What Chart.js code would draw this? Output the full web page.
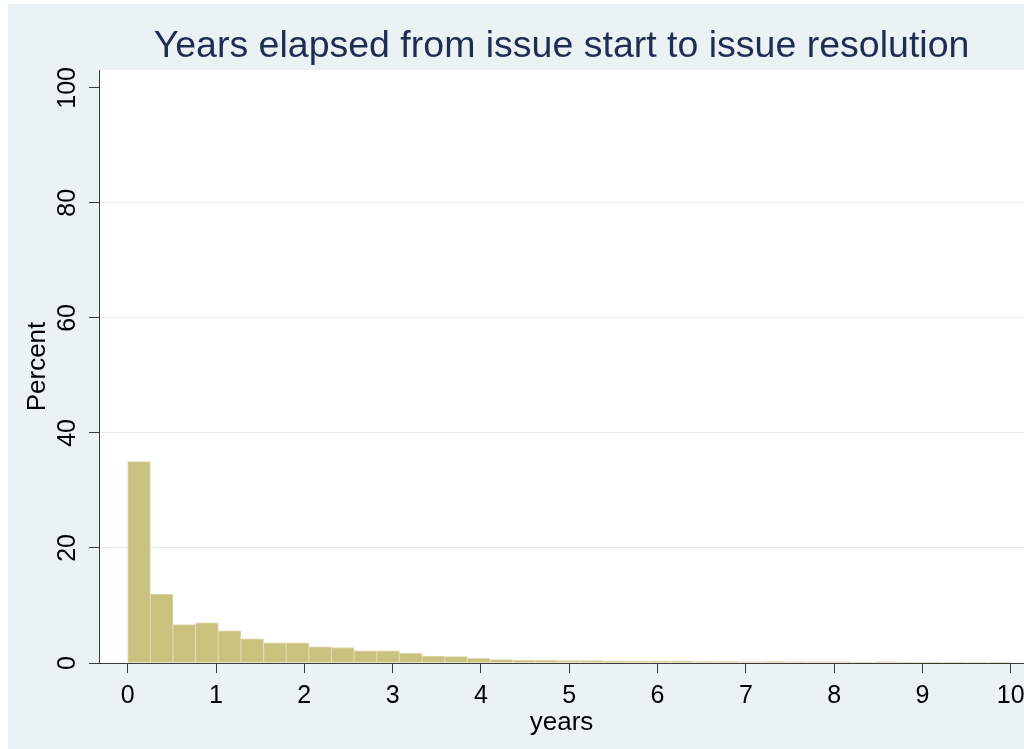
<!DOCTYPE html>
<html>
<head>
<meta charset="utf-8">
<title>Years elapsed from issue start to issue resolution</title>
<script src="https://cdn.jsdelivr.net/npm/chart.js@4"></script>
<style>
  html, body { margin: 0; padding: 0; background: #ffffff; }
  #chart { display: block; }
</style>
</head>
<body>
<canvas id="chart" width="1024" height="749"></canvas>
<script>
// histogram: 39 equal bins from 0 to 10 years, height = percent of issues
const binCount = 39;
const binWidth = 10 / binCount;
const percents = [
  35.0, 12.0, 6.7, 7.0, 5.6, 4.2, 3.5, 3.5, 2.8, 2.7,
  2.1, 2.1, 1.7, 1.2, 1.1, 0.8, 0.6, 0.5, 0.45, 0.4,
  0.4, 0.3, 0.35, 0.35, 0.3, 0.25, 0.25, 0.2, 0.25, 0.2,
  0.2, 0.2, 0.15, 0.2, 0.15, 0.15, 0.15, 0.1, 0.15
];
const xTicks = [0, 1, 2, 3, 4, 5, 6, 7, 8, 9, 10];
const yTicks = [0, 20, 40, 60, 80, 100];

const barData = percents.map((p, i) => ({ x: (i + 0.5) * binWidth, y: p }));

const FONT = "'Liberation Sans', Arial, Helvetica, sans-serif";

// stata-like backgrounds: light outer region, white plot region
const backgroundPlugin = {
  id: "background",
  beforeDraw(chart) {
    const { ctx, width, height, chartArea } = chart;
    ctx.save();
    ctx.fillStyle = "#ffffff";
    ctx.fillRect(0, 0, width, height);
    ctx.fillStyle = "#eaf2f3";
    ctx.fillRect(8, 4, width - 8, height - 4);
    ctx.fillStyle = "#ffffff";
    ctx.fillRect(chartArea.left, chartArea.top, chartArea.right - chartArea.left, chartArea.bottom - chartArea.top);
    ctx.restore();
  },
};

const ctx = document.getElementById("chart").getContext("2d");
new Chart(ctx, {
  type: "bar",
  data: {
    datasets: [
      {
        label: "Percent",
        data: barData,
        backgroundColor: "rgb(201,193,126)",
        borderColor: "rgb(222,216,170)",
        borderWidth: 1,
        barPercentage: 1,
        categoryPercentage: 1,
      },
    ],
  },
  options: {
    responsive: false,
    animation: false,
    devicePixelRatio: 1,
    layout: { padding: 0 },
    plugins: {
      legend: { display: false },
      tooltip: { enabled: false },
      title: {
        display: true,
        fullSize: false,
        text: "Years elapsed from issue start to issue resolution",
        color: "#1e2d53",
        font: { family: FONT, size: 37.5, weight: "normal", lineHeight: 1.2 },
        padding: { top: 24, bottom: 1 },
      },
    },
    scales: {
      x: {
        type: "linear",
        offset: false,
        min: -0.325,
        max: 10.15,
        afterBuildTicks: (scale) => {
          scale.ticks = xTicks.map((v) => ({ value: v }));
        },
        afterFit: (scale) => {
          scale.height = 86;
          scale.paddingLeft = 0;
          scale.paddingRight = 0;
        },
        grid: {
          offset: false,
          drawOnChartArea: false,
          drawTicks: true,
          tickLength: 10,
          tickColor: "#3a3a3a",
        },
        border: { color: "#3a3a3a", width: 1 },
        ticks: {
          color: "#000",
          padding: 8,
          maxRotation: 0,
          autoSkip: false,
          font: { family: FONT, size: 25 },
          callback: (v) => String(v),
        },
        title: {
          display: true,
          text: "years",
          color: "#000",
          font: { family: FONT, size: 26 },
          padding: { top: 0, bottom: 11 },
        },
      },
      y: {
        min: 0,
        max: 103.1,
        afterBuildTicks: (scale) => {
          scale.ticks = yTicks.map((v) => ({ value: v }));
        },
        afterFit: (scale) => {
          scale.width = 99;
          scale.paddingTop = 0;
          scale.paddingBottom = 0;
        },
        grid: {
          drawOnChartArea: true,
          drawTicks: true,
          tickLength: 10,
          tickColor: "#3a3a3a",
          color: (c) => (c.tick && c.tick.value > 0 && c.tick.value < 100 ? "#e3edf0" : "rgba(0,0,0,0)"),
          lineWidth: 1,
        },
        border: { color: "#3a3a3a", width: 1 },
        ticks: {
          color: "#000",
          padding: 0,
          minRotation: 90,
          maxRotation: 90,
          crossAlign: "center",
          autoSkip: false,
          font: { family: FONT, size: 25 },
          callback: (v) => String(v),
        },
        title: {
          display: true,
          text: "Percent",
          color: "#000",
          font: { family: FONT, size: 26 },
          padding: { top: 22, bottom: 0 },
        },
      },
    },
  },
  plugins: [backgroundPlugin],
});
</script>
</body>
</html>
